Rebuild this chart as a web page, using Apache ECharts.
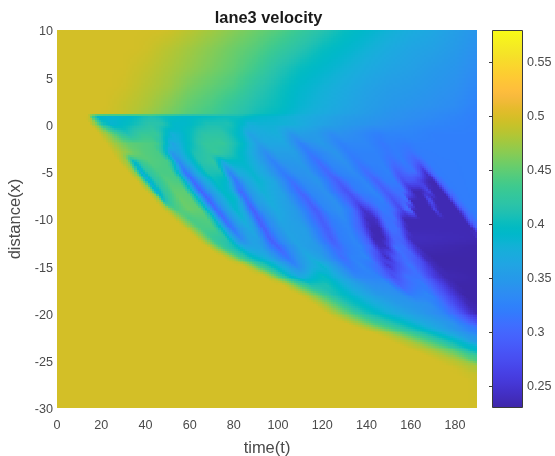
<!DOCTYPE html>
<html><head><meta charset="utf-8">
<style>html,body{margin:0;padding:0;background:#fff}#c{width:555px;height:456px}</style>
<script src="https://cdn.jsdelivr.net/npm/echarts@6/dist/echarts.min.js"></script>
</head><body><div id="c"></div>
<script>
const timeRange=[0,190];
const distanceRange=[-30,10];
const distanceRows=[10,8,6,4,2,1.1,0.9,0,-1,-2,-3,-4,-5,-6,-7,-8,-9,-10,-11,-12,-13,-14,-15,-16,-17,-18,-19,-20,-21,-22,-23,-24,-25,-26,-27,-30];
// one list per distance row: time, velocity, time, velocity ...
const velocityRows=[
[45,.497,50,.495,60,.485,70,.475,80,.465,90,.455,100,.445,110,.43,120,.415,130,.40,140,.39,150,.38,160,.372,170,.365,180,.355,190,.345],
[35,.497,40,.495,50,.485,60,.475,70,.465,80,.455,90,.445,100,.43,110,.415,120,.40,130,.39,140,.38,150,.37,160,.362,170,.358,180,.35,190,.34],
[30,.497,40,.49,50,.48,60,.47,70,.46,80,.45,90,.435,100,.415,110,.40,120,.39,130,.38,140,.37,150,.362,160,.357,170,.35,180,.345,190,.335],
[25,.497,30,.495,40,.485,50,.475,60,.46,70,.45,80,.44,90,.42,100,.405,110,.39,120,.38,130,.37,140,.36,150,.353,160,.35,170,.345,180,.34,190,.33],
[22,.497,30,.49,40,.48,50,.465,60,.45,70,.44,80,.425,90,.41,100,.40,110,.385,120,.375,130,.365,140,.355,150,.348,160,.344,170,.34,180,.335,190,.325],
[20,.497,30,.49,40,.475,50,.46,60,.445,70,.435,80,.42,90,.405,100,.395,110,.38,120,.37,130,.36,140,.352,150,.343,160,.338,170,.334,180,.33,190,.322],
[14,.497,15.5,.44,18,.39,25,.385,32,.39,42,.41,50,.40,57,.39,65,.395,72,.40,82,.405,90,.39,98,.385,115,.37,130,.355,150,.343,170,.334,190,.322],
[15,.497,18,.46,21,.41,25,.385,33,.40,42,.42,48,.415,53,.39,58,.39,68,.41,78,.41,84,.39,87,.375,92,.38,100,.38,108,.375,116,.365,130,.35,150,.337,170,.328,190,.322],
[19,.497,23,.47,28,.43,32,.41,38,.43,45,.43,49,.40,52,.375,56,.385,66,.42,75,.42,84,.385,87,.36,91,.37,100,.375,106,.345,110,.355,118,.35,124,.335,128,.34,135,.335,145,.322,150,.327,160,.327,170,.322,190,.322],
[22,.497,27,.47,32,.45,45,.44,49,.40,52,.36,56,.38,66,.425,75,.43,83,.40,91,.355,95,.365,103,.365,110,.325,114,.34,120,.35,128,.325,132,.33,140,.33,147,.315,151,.322,158,.318,162,.322,175,.322,190,.322],
[25,.497,30,.475,35,.455,40,.445,46,.44,49,.40,52,.345,56,.37,62,.41,72,.43,78,.415,85,.385,90,.36,94.5,.335,99,.355,108,.355,114,.315,119,.33,126,.345,132,.32,137,.325,144,.325,150,.315,154,.32,160,.31,164,.32,175,.322,190,.322],
[28,.497,32,.47,35,.39,38,.43,42,.445,50,.44,53,.39,55,.33,59,.37,65,.415,71,.425,75,.37,78,.39,84,.39,90,.37,98,.325,102,.345,110,.35,118.5,.305,123,.33,130,.34,136,.315,141,.325,147,.325,152,.305,157,.32,163.5,.29,168,.32,190,.322],
[32,.497,35,.47,38,.375,41,.42,46,.44,52,.44,55,.38,58,.31,62,.36,68,.41,74,.41,78,.33,82,.37,88,.385,95,.36,102,.32,107,.34,114,.345,122.5,.30,127,.325,134,.335,140,.305,145,.32,150,.325,154,.29,159,.31,162,.31,166.5,.245,169,.30,172,.32,190,.322],
[36,.497,38.5,.47,41.5,.38,45,.42,50,.445,55,.44,58,.39,61.5,.30,66,.36,72,.40,77,.39,81,.31,85,.36,91,.385,98,.365,106,.31,111,.335,118,.345,127,.29,132,.32,139,.33,144.5,.295,149,.32,153,.32,156.5,.275,159,.285,162,.28,166,.25,168,.235,170.5,.235,173,.30,176,.32,190,.322],
[40,.497,42.5,.47,45,.38,48,.42,53,.45,58,.45,61,.39,65,.295,69,.35,75,.395,79,.38,83,.30,87,.35,93,.38,101,.36,109.5,.30,114,.33,121,.34,131,.28,136,.32,143,.33,148.5,.29,153,.31,157,.31,159,.27,161,.235,165,.235,168,.27,169.5,.235,174,.235,177,.30,180,.32,190,.322],
[44,.497,46.5,.47,48,.40,51,.43,56,.455,61,.45,64.5,.39,68.5,.295,72.5,.35,79,.395,82,.38,85.7,.30,89.5,.35,96,.375,104,.355,113.4,.295,118,.33,125,.34,135,.275,140,.31,147,.325,152,.28,156,.30,158.5,.31,160,.235,167,.235,168.5,.28,170.5,.235,177.5,.235,180,.30,183,.32,190,.322],
[48,.497,51,.47,54,.44,60,.455,65,.45,68,.39,72,.30,76,.35,81,.39,84,.37,88.5,.29,92,.34,99,.37,108,.35,117,.29,122,.33,128,.34,134,.31,138.5,.245,142,.27,147,.32,152,.31,156,.265,158,.30,159.5,.31,161,.235,169.5,.235,171,.27,172.5,.235,181,.235,184,.30,187,.32,190,.322],
[53,.497,56,.47,60,.44,68,.445,71,.40,75.5,.30,79.5,.35,84,.38,87,.36,91,.29,94.5,.33,101,.365,110,.35,119.5,.29,124,.32,130,.335,136,.30,140,.24,144,.24,148,.31,153,.31,157,.235,184,.235,187,.30,190,.32],
[58,.497,61,.47,65,.44,71,.44,75,.38,79,.31,83,.35,87,.37,90,.35,93.5,.29,97,.33,103,.36,112,.355,122,.29,126,.32,132,.33,138,.29,141.5,.235,146,.235,150,.31,154,.31,158.5,.235,187.5,.235,190,.30],
[63,.497,66,.47,70,.43,76,.42,80,.36,83,.33,87,.36,91,.36,96,.29,100,.33,106,.36,114,.355,124,.29,128,.32,134,.33,140,.295,143,.235,148,.235,152,.30,156,.30,159.5,.24,189,.235,190,.245],
[68,.497,71,.47,75,.43,81,.40,85,.365,92,.36,100,.295,104,.33,110,.36,118,.35,126.5,.30,131,.32,137,.33,142,.30,145.5,.24,149,.24,153,.31,157,.305,161,.26,164,.235,190,.23],
[75,.497,78,.48,82,.44,88,.395,95,.37,104,.31,108,.34,114,.37,120,.355,129,.305,133,.325,140,.33,145,.28,149,.24,152,.28,157,.31,162,.29,166,.24,170,.23,190,.23],
[84,.497,87,.48,91,.44,97,.40,102,.37,108,.33,113,.36,120,.385,126,.35,132,.315,138,.33,145,.305,150,.25,154,.28,160,.315,165,.28,170,.24,174,.23,190,.23],
[93,.497,96,.48,100,.44,105,.39,110,.365,120,.40,127,.37,135,.33,145,.325,152,.275,158,.31,164,.31,170,.26,175,.235,190,.23],
[102,.497,105,.48,110,.44,115,.41,122,.41,132,.37,142,.34,150,.335,155,.295,160,.31,166,.32,172,.28,178,.24,182,.23,190,.23],
[109,.497,112,.485,118,.45,125,.41,135,.38,145,.35,155,.34,160,.32,168,.33,175,.285,180,.25,184,.23,190,.23],
[116,.497,120,.48,125,.45,132,.41,142,.38,155,.35,168,.34,175,.31,181,.265,186,.235,190,.23],
[122,.497,126,.48,132,.45,140,.41,150,.38,165,.35,175,.33,182,.29,187,.25,190,.235],
[130,.497,136,.475,143,.44,152,.41,165,.37,178,.345,185,.31,190,.28],
[142,.497,148,.48,157,.44,170,.39,182,.35,190,.32],
[152,.497,160,.48,170,.44,180,.40,185,.38,190,.35],
[162,.497,170,.48,180,.45,185,.42,190,.39],
[172,.497,180,.485,185,.47,190,.44],
[180,.497,185,.49,190,.48],
[186,.497,190,.492],
[0,.497,190,.497]
];
// how far, in time per unit of distance, the streaks drift between rows below the lane line
const streakDrift=[0,0,0,0,0,0,3.5,3.5,3.5,3.5,3.5,3.5,3.5,3.5,3.5,3.5,3.5,3.5,3.5,3.5,5,5,5,5,5,5,5,5,10,10,10,10,10,10,0];
const colorMin=0.2296, colorMax=0.5796;
const colorbarTicks=[0.25,0.3,0.35,0.4,0.45,0.5,0.55];
const xTicks=[0,20,40,60,80,100,120,140,160,180];
const parula=[[.2422,.1504,.6603],[.2504,.165,.7076],[.2578,.1818,.7511],[.2647,.1978,.7952],[.2706,.2147,.8364],[.2751,.2342,.871],[.2783,.2559,.8991],[.2803,.2782,.9221],[.2813,.3006,.9414],[.281,.3228,.9579],[.2795,.3447,.9717],[.276,.3667,.9829],[.2699,.3892,.9906],[.2602,.4123,.9952],[.244,.4358,.9988],[.2206,.4603,.9973],[.1963,.4847,.9892],[.1834,.5074,.9798],[.1786,.5289,.9682],[.1764,.5499,.952],[.1687,.5703,.9359],[.154,.5902,.9218],[.146,.6091,.9079],[.138,.6276,.8973],[.1248,.6459,.8883],[.1113,.6635,.8763],[.0952,.6798,.8598],[.0689,.6948,.8394],[.0297,.7082,.8163],[.0036,.7203,.7917],[.0067,.7312,.766],[.0433,.7411,.7394],[.0964,.75,.712],[.1408,.7584,.6842],[.1717,.767,.6554],[.1938,.7758,.6251],[.2161,.7843,.5923],[.247,.7918,.5567],[.2906,.7973,.5188],[.3406,.8008,.4789],[.3909,.8029,.4354],[.4456,.8024,.3909],[.5044,.7993,.348],[.5616,.7942,.3045],[.6174,.7876,.2612],[.672,.7793,.2227],[.7242,.7698,.191],[.7738,.7598,.1646],[.8203,.7498,.1535],[.8634,.7406,.1596],[.9035,.733,.1774],[.9393,.7288,.21],[.9728,.7298,.2394],[.9956,.7434,.2371],[.997,.7659,.2199],[.9952,.7893,.2028],[.9892,.8136,.1885],[.9786,.8386,.1766],[.9676,.8639,.1643],[.961,.889,.1537],[.9597,.9135,.1423],[.9628,.9373,.1265],[.9691,.9606,.1064],[.9769,.9839,.0805]];

function colorOf(v){
  let p=(v-colorMin)/(colorMax-colorMin)*(parula.length-1);
  p=Math.max(0,Math.min(parula.length-1,p));
  const a=Math.floor(p), b=Math.min(parula.length-1,a+1), f=p-a;
  const c=[0,1,2].map(k=>Math.round(255*(parula[a][k]*(1-f)+parula[b][k]*f)));
  return 'rgb('+c.join(',')+')';
}
function rowValue(row,t){
  if(t<=row[0])return row[1];
  for(let k=2;k<row.length;k+=2){
    if(t<=row[k]){const f=(t-row[k-2])/(row[k]-row[k-2]);return row[k-1]*(1-f)+row[k+1]*f;}
  }
  return row[row.length-1];
}
const TIME_STEP=1;
const cells=[];
for(let j=0;j<distanceRows.length-1;j++)for(let t=timeRange[0];t<timeRange[1];t+=TIME_STEP){
  cells.push([t,distanceRows[j],t+TIME_STEP,distanceRows[j+1],j]);
}
// shaded strip, as in MATLAB "shading interp": colour blends between the two neighbouring rows along the streak direction
function renderCell(params,api){
  const t0=api.value(0),y0=api.value(1),t1=api.value(2),y1=api.value(3),j=api.value(4);
  const p0=api.coord([t0,y0]), p1=api.coord([t1,y1]);
  const dy=y0-y1, drift=streakDrift[j]*dy, tm=(t0+t1)/2;
  const ny=Math.max(1,Math.round((p1[1]-p0[1])/2));
  const children=[];
  const x0=Math.round(p0[0]), x1=Math.round(p1[0]);
  if(x1<=x0)return {type:'group',children};
  for(let q=0;q<ny;q++){
    const py0=Math.round(p0[1]+(p1[1]-p0[1])*q/ny), py1=Math.round(p0[1]+(p1[1]-p0[1])*(q+1)/ny);
    const f=(q+.5)/ny;
    const val=(1-f)*rowValue(velocityRows[j],tm-drift*f)+f*rowValue(velocityRows[j+1],tm+drift*(1-f));
    if(py1>py0)children.push({type:'rect',shape:{x:x0,y:py0,width:x1-x0,height:py1-py0},style:{fill:colorOf(val)},silent:true});
  }
  return {type:'group',children};
}
function renderBar(params,api){
  const p0=api.coord([0,colorMax]), p1=api.coord([1,colorMin]);
  const stops=parula.map((c,i)=>({offset:1-i/(parula.length-1),color:'rgb('+c.map(k=>Math.round(k*255)).join(',')+')'}));
  return {type:'rect',shape:{x:p0[0]+.5,y:p0[1]+.5,width:p1[0]-p0[0]-1,height:p1[1]-p0[1]-1},
    style:{fill:new echarts.graphic.LinearGradient(0,0,0,1,stops),stroke:'#3a3a3a',lineWidth:1},silent:true};
}
const labelColor='#4a4a4a', fontFamily='"Liberation Sans",Arial,sans-serif';
const chart=echarts.init(document.getElementById('c'),null,{renderer:'canvas'});
chart.setOption({
  animation:false,backgroundColor:'#fff',
  title:{text:'lane3 velocity',left:263.5,top:5.5,textAlign:'center',textStyle:{fontFamily,fontSize:16.4,fontWeight:'bold',color:'#1a1a1a'}},
  grid:[{left:57,top:30,width:420,height:378,outerBoundsMode:'none'},{left:492,top:30,width:31,height:378,outerBoundsMode:'none'}],
  xAxis:[
    {gridIndex:0,type:'value',min:timeRange[0],max:timeRange[1],interval:20,name:'time(t)',nameLocation:'middle',nameGap:32,
     nameTextStyle:{fontFamily,fontSize:16.5,color:labelColor},splitLine:{show:false},axisLine:{show:false},axisTick:{show:false},
     axisLabel:{fontFamily,fontSize:12.6,color:labelColor,margin:11,customValues:xTicks}},
    {gridIndex:1,type:'value',min:0,max:1,show:false}
  ],
  yAxis:[
    {gridIndex:0,type:'value',min:distanceRange[0],max:distanceRange[1],interval:5,name:'distance(x)',nameLocation:'middle',nameGap:33,
     nameTextStyle:{fontFamily,fontSize:16.5,color:labelColor},splitLine:{show:false},axisLine:{show:false},axisTick:{show:false},
     axisLabel:{fontFamily,fontSize:12.6,color:labelColor,margin:4,verticalAlign:'top',lineHeight:4}},
    {gridIndex:1,type:'value',position:'right',min:colorMin,max:colorMax,splitLine:{show:false},axisLine:{show:false},
     axisTick:{show:true,inside:true,length:3,lineStyle:{color:'#3a3a3a'},customValues:colorbarTicks},
     axisLabel:{fontFamily,fontSize:12.6,color:labelColor,margin:4,verticalAlign:'top',lineHeight:2,customValues:colorbarTicks}}
  ],
  series:[
    {type:'custom',xAxisIndex:0,yAxisIndex:0,data:cells,renderItem:renderCell,clip:true,silent:true,progressive:0,encode:{x:[0,2],y:[1,3]}},
    {type:'custom',xAxisIndex:1,yAxisIndex:1,z:3,data:[[0,colorMin]],renderItem:renderBar,silent:true}
  ]
});
</script></body></html>
